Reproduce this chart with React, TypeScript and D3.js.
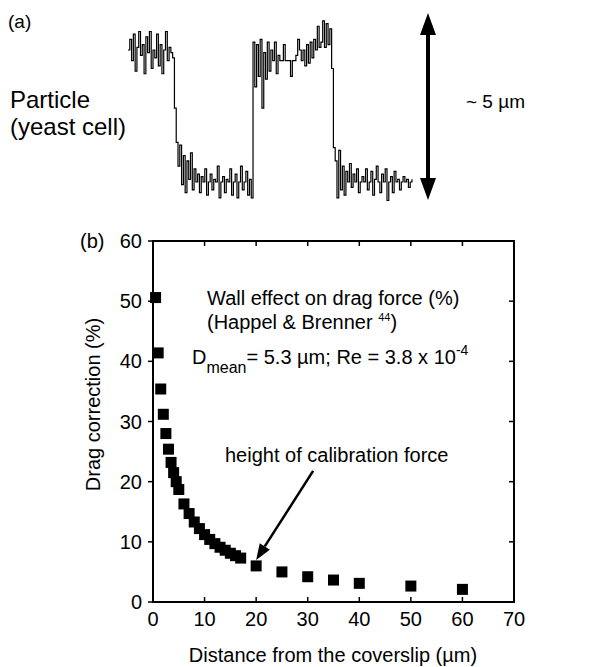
import React from "react";
import * as d3 from "d3";

// ---------- Data ----------
// (b) drag correction vs distance from coverslip
const distances = [0.5, 1, 1.5, 2, 2.5, 3, 3.5, 4, 4.5, 5, 6, 7, 8, 9, 10, 11, 12, 13, 14, 15, 16, 17, 20, 25, 30, 35, 40, 50, 60];
const dragCorrection = [50.6, 41.4, 35.4, 31.2, 28.0, 25.4, 23.2, 21.5, 20.0, 18.7, 16.3, 14.7, 13.3, 12.2, 11.2, 10.4, 9.7, 9.1, 8.6, 8.1, 7.7, 7.3, 6.0, 5.0, 4.2, 3.65, 3.1, 2.65, 2.1];
const xTicks = [0, 10, 20, 30, 40, 50, 60, 70];
const yTicks = [0, 10, 20, 30, 40, 50, 60];

// (a) particle position trace (µm, relative)
const traceHigh1 = [5.0, 5.4, 4.6, 5.6, 4.2, 5.1, 5.7, 4.8, 5.2, 4.1, 5.5, 4.9, 5.7, 4.3, 5.0, 4.7, 5.6, 4.4, 5.2, 4.1, 5.0, 5.7, 4.6, 5.1, 4.9];
const traceDrop1 = [4.7, 2.8, 1.5];
const traceLow1 = [0.6, 1.4, -0.1, 1.0, -0.4, 0.8, 0.1, 1.1, -0.3, 0.5,
  0.0, 0.3, -0.4, 0.2, 0.0, 0.5, -0.5, 0.0, 0.3, -0.3,
  0.1, 0.0, 0.6, -0.6, 0.0, 0.2, -0.4, 0.1, 0.0, 0.5,
  -0.5, 0.0, 0.3, -0.6, 0.0, 0.6, -0.3, 0.0, 0.4, -0.5,
  0.1, -0.6];
const traceHigh2 = [5.3, 3.6, 5.2, 4.0, 5.4, 2.8, 4.9, 3.9, 5.3, 4.2,
  5.0, 4.6, 5.3, 4.1, 4.8, 4.6, 4.6, 5.2, 4.6, 4.6,
  4.6, 4.0, 4.6, 4.6, 4.8, 5.4, 5.0, 4.6, 5.0, 4.4,
  5.2, 4.5, 5.3, 4.7, 5.4, 5.0, 5.9, 5.1, 5.3, 6.1,
  5.1, 6.0, 5.2, 5.8];
const traceDrop2 = [4.3, 1.3];
const traceLow2 = [0.8, -0.6, 1.2, -0.3, 0.6, -0.5, 0.4, 0.0, 0.7, -0.2,
  0.3, 0.0, 0.5, -0.4, 0.0, 0.2, 0.0, 0.5, -0.3, 0.0,
  0.4, -0.5, 0.1, 0.6, 0.0, -0.4, 0.3, 0.0, 0.5, -0.7,
  0.0, 0.2, -0.4, 0.4, 0.0, 0.1, -0.3, 0.0, 0.2, 0.0,
  0.1, -0.2, 0.0, 0.1];

const trace = [...traceHigh1, ...traceDrop1, ...traceLow1, ...traceHigh2, ...traceDrop2, ...traceLow2];

const calibrationDistance = 20;
const calibrationValue = 6.0;

const FONT = "'Liberation Sans', Arial, Helvetica, sans-serif";

export default function App() {
  const W = 589, H = 667;
  const x = d3.scaleLinear().domain([0, 70]).range([153, 514]);
  const y = d3.scaleLinear().domain([0, 60]).range([602, 241]);

  const tx = d3.scaleLinear().domain([0, trace.length - 1]).range([128, 412]);
  const ty = d3.scaleLinear().domain([0, 5]).range([182, 50]);
  const tracePath = d3.line<number>().x((_, i) => tx(i)).y((d) => ty(d)).curve(d3.curveStepAfter)(trace) || "";

  const ms = 11;
  const tick = 5;

  // annotation arrow
  const tipX = x(calibrationDistance);
  const tipY = y(calibrationValue) - 6;
  const tailX = tipX + 57;
  const tailY = tipY - 89;
  const ang = Math.atan2(tipY - tailY, tipX - tailX);
  const ahL = 16, ahW = 6;
  const bx = tipX - ahL * Math.cos(ang), by = tipY - ahL * Math.sin(ang);
  const head = `M${tipX},${tipY} L${bx + ahW * Math.sin(ang)},${by - ahW * Math.cos(ang)} L${bx - ahW * Math.sin(ang)},${by + ahW * Math.cos(ang)} Z`;

  // scale arrow in (a)
  const arX = 428, arTop = 13, arBot = 200;

  return (
    <svg width={W} height={H} style={{ position: "absolute", left: 0, top: 0, background: "#fff" }} fontFamily={FONT}>
      <rect x={0} y={0} width={W} height={H} fill="#fff" />
      {/* ---- panel (a) ---- */}
      <text x={8} y={28} fontSize={19}>(a)</text>
      <text x={10} y={108} fontSize={24}>Particle</text>
      <text x={10} y={135} fontSize={24}>(yeast cell)</text>
      <path d={tracePath} fill="none" stroke="#000" strokeWidth={1.2} />
      <line x1={arX} x2={arX} y1={arTop + 18} y2={arBot - 18} stroke="#000" strokeWidth={4} />
      <path d={`M${arX},${arTop} L${arX - 8},${arTop + 22} L${arX + 8},${arTop + 22} Z`} fill="#000" />
      <path d={`M${arX},${arBot} L${arX - 8},${arBot - 22} L${arX + 8},${arBot - 22} Z`} fill="#000" />
      <text x={466} y={108} fontSize={19}>~ 5 µm</text>

      {/* ---- panel (b) ---- */}
      <text x={80} y={248} fontSize={20}>(b)</text>
      {/* frame */}
      <rect x={x(0)} y={y(60)} width={x(70) - x(0)} height={y(0) - y(60)} fill="none" stroke="#000" strokeWidth={2} />
      {xTicks.slice(1, -1).map((t) => (
        <g key={"xt" + t}>
          <line x1={x(t)} x2={x(t)} y1={y(0)} y2={y(0) - tick} stroke="#000" strokeWidth={1.5} />
          <line x1={x(t)} x2={x(t)} y1={y(60)} y2={y(60) + tick} stroke="#000" strokeWidth={1.5} />
        </g>
      ))}
      {yTicks.map((t) => (
        <g key={"yt" + t}>
          <line x1={x(0)} x2={x(0) - tick} y1={y(t)} y2={y(t)} stroke="#000" strokeWidth={1.5} />
          {t > 0 && t < 60 && <line x1={x(70)} x2={x(70) - tick} y1={y(t)} y2={y(t)} stroke="#000" strokeWidth={1.5} />}
        </g>
      ))}
      {xTicks.map((t) => (
        <text key={"xl" + t} x={x(t)} y={626} fontSize={20} textAnchor="middle">{t}</text>
      ))}
      {yTicks.map((t) => (
        <text key={"yl" + t} x={142} y={y(t) + 7} fontSize={20} textAnchor="end">{t}</text>
      ))}
      <text x={333} y={662} fontSize={20} textAnchor="middle">Distance from the coverslip (µm)</text>
      <text transform={`translate(100,${y(30) - 17}) rotate(-90)`} fontSize={20} textAnchor="middle">Drag correction (%)</text>

      {distances.map((d, i) => (
        <rect key={"p" + i} x={x(d) - ms / 2} y={y(dragCorrection[i]) - ms / 2} width={ms} height={ms} fill="#000" />
      ))}

      <text x={207} y={305} fontSize={20}>Wall effect on drag force (%)</text>
      <text x={207} y={329} fontSize={20}>(Happel &amp; Brenner <tspan fontSize={11} dy={-8}>44</tspan><tspan dy={8}>)</tspan></text>
      <text x={192} y={364} fontSize={20}>D<tspan fontSize={16} dy={9}>mean</tspan><tspan dy={-9}>= 5.3 µm; Re = 3.8 x 10</tspan><tspan fontSize={14} dy={-9}>-4</tspan></text>

      <text x={225} y={462} fontSize={20}>height of calibration force</text>
      <line x1={tailX} y1={tailY} x2={bx} y2={by} stroke="#000" strokeWidth={2.5} />
      <path d={head} fill="#000" />
    </svg>
  );
}
